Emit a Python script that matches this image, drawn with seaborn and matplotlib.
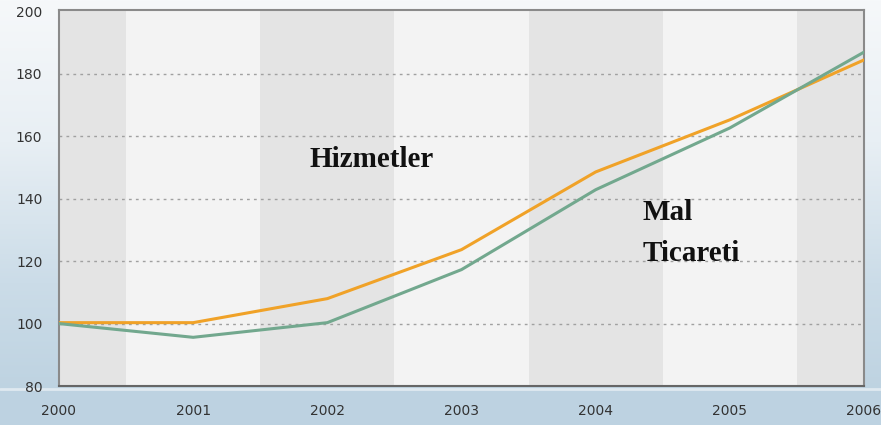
import numpy as np
import pandas as pd
import seaborn as sns
from matplotlib import pyplot as plt
from matplotlib.colors import LinearSegmentedColormap

years = [2000, 2001, 2002, 2003, 2004, 2005, 2006]
hizmetler = [100.3, 100.3, 108.0, 123.7, 148.6, 165.3, 184.5]
mal_ticareti = [100.0, 95.6, 100.3, 117.3, 142.9, 162.7, 187.0]
y_ticks = [80, 100, 120, 140, 160, 180, 200]

df = pd.DataFrame({
    "year": years * 2,
    "value": hizmetler + mal_ticareti,
    "series": ["Hizmetler"] * len(years) + ["Mal Ticareti"] * len(years),
})

sns.set_style("white")
fig = plt.figure(figsize=(8.81, 4.25), dpi=100)

# background gradient of the whole picture
bg = fig.add_axes([0, 0, 1, 1], zorder=-10)
grad = np.linspace(0, 1, 256).reshape(-1, 1)
cmap = LinearSegmentedColormap.from_list("bg", ["#f6f8fa", "#e8eff4", "#cbdce8", "#bad0df"])
bg.imshow(grad, aspect="auto", cmap=cmap, extent=[0, 1, 0, 1])
bg.axhspan(0, 0.085, color="#bdd2e1")
bg.axhline(0.085, color="#dfe9f0", lw=2)
bg.set_axis_off()

ax = fig.add_axes([59 / 881, 1 - 386 / 425, 805 / 881, 376 / 425])
ax.set_facecolor("#f3f3f3")

# alternating vertical bands centred on the years
for i, yr in enumerate(years):
    if i % 2 == 1:
        ax.axvspan(yr - 0.5, yr + 0.5, color="#f3f3f3", zorder=0, lw=0)
    else:
        ax.axvspan(yr - 0.5, yr + 0.5, color="#e4e4e4", zorder=0, lw=0)

for v in y_ticks[1:-1]:
    ax.axhline(v, color="#a0a0a0", lw=1, ls=(0, (2, 3)), zorder=1)

sns.lineplot(data=df, x="year", y="value", hue="series",
             palette={"Hizmetler": "#f0a228", "Mal Ticareti": "#72a88e"},
             linewidth=2.2, legend=False, ax=ax, zorder=3)

ax.set_xlim(2000, 2006)
ax.set_ylim(80, 200.5)
ax.set_xticks(years)
ax.set_xticklabels([str(y) for y in years], fontsize=10, color="#333333")
ax.set_yticks(y_ticks)
ax.set_yticklabels([str(v) for v in y_ticks], fontsize=10, color="#333333")
ax.tick_params(axis="x", length=0, pad=13)
ax.tick_params(axis="y", length=0, pad=12)
ax.set_xlabel("")
ax.set_ylabel("")
for s in ax.spines.values():
    s.set_color("#8a8a8a")
    s.set_linewidth(1.5)
ax.spines["bottom"].set_color("#666666")

ax.text(2001.87, 152.5, "Hizmetler", family="Liberation Serif", fontweight="bold",
        fontsize=21, color="#111111", va="center")
ax.text(2004.35, 135.5, "Mal", family="Liberation Serif", fontweight="bold",
        fontsize=21, color="#111111", va="center")
ax.text(2004.35, 122.5, "Ticareti", family="Liberation Serif", fontweight="bold",
        fontsize=21, color="#111111", va="center")

fig.savefig("out.png", dpi=100)
